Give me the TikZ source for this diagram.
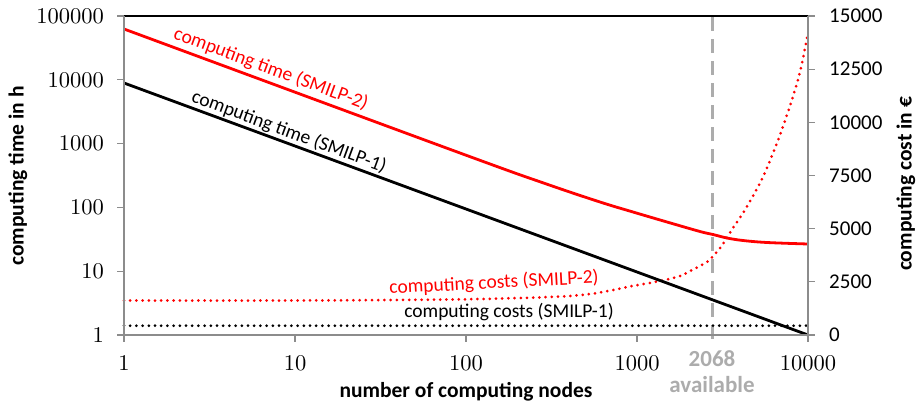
\documentclass[tikz,border=0pt]{standalone}
\usepackage{fontspec}
\usepackage{tikz}
\usetikzlibrary{positioning}
\newfontfamily\calibri{Carlito}
\newfontfamily\numfont{lmroman10-regular.otf}

\begin{document}
\begin{tikzpicture}[x=1pt, y=-1pt,
		axisline/.style={draw=gray!90, line width=1.2pt},
		framebox/.style={draw=black, line width=1.2pt},
		serifnum/.style={font=\numfont\fontsize{22.5}{22.5}\selectfont, inner sep=0pt},
		sansnum/.style={font=\calibri\fontsize{21}{21}\selectfont, inner sep=0pt},
		curvelabel/.style={font=\calibri\fontsize{19.5}{19.5}\selectfont, inner sep=0pt},
		axislabel/.style={font=\calibri\bfseries\fontsize{21.5}{21.5}\selectfont, inner sep=0pt},
		availlabel/.style={font=\calibri\bfseries\fontsize{23}{23}\selectfont, text=gray!65, inner sep=0pt},
		timeline/.style={line width=2.8pt, line join=round},
		costline/.style={line width=3pt, dash pattern=on 0pt off 6.2pt, line cap=round},
		availline/.style={draw=gray!65, line width=3pt, dash pattern=on 14pt off 8pt},
		]
		\useasboundingbox (0,0) rectangle (916,407);

		%Frame
		\coordinate (origin)	at (124,335);
		\coordinate (topleft)	at (124,16);
		\coordinate (topright)	at (808,16);
		\coordinate (botright)	at (808,335);
		\coordinate (availtop)	at (712,17);
		\coordinate (availbot)	at (712,343);

		%Available nodes
		\draw[availline]	(availtop) -- (availbot);

		%Cost curves (right axis)
		\draw[costline, black]	(124,325.7) -- (808,325.7);
		\draw[costline, red]	plot[smooth, tension=0.5] coordinates {(124,300.5) (300,300.5) (450,299.5) (520,298) (570,296) (600,292.5) (630,286.5) (660,281) (680,276) (693,269.5) (707,262) (715,254) (723,244) (733,228) (743,213) (753,196) (763,177) (777,143) (790,106) (800,72) (808,33)};

		%Time curves (left axis)
		\draw[timeline, black]	(124,83) -- (botright);
		\draw[timeline, red]	plot[smooth, tension=0.6] coordinates {(124,29) (460,153) (545,183.5) (600,202) (633,212) (667,222) (700,231.5) (713,234.5) (727,238) (743,240.5) (767,242.5) (808,244)};

		%Axes
		\draw[framebox]		(topleft) -- (topright);
		\draw[axisline]		(topleft) -- (origin) -- (botright) -- (topright);
		\foreach \v [count=\i from 0] in {1,10,100,1000,10000,100000}{
			\draw[axisline] (117,335-63.8*\i) -- (124,335-63.8*\i);
			\node[serifnum, anchor=east] (ytick\i) at (104,335-63.8*\i) {\v};
		}
		\foreach \v [count=\i from 0] in {1,10,100,1000,10000}{
			\draw[axisline] (124+171*\i,335) -- (124+171*\i,342);
			\node[serifnum] (xtick\i) at (124+171*\i,363) {\v};
		}
		\foreach \v [count=\i from 0] in {0,2500,5000,7500,10000,12500,15000}{
			\draw[axisline] (808,335-53.17*\i) -- (815,335-53.17*\i);
			\node[sansnum, anchor=west] (ctick\i) at (829,335-53.17*\i) {\v};
		}

		%Labels
		\node[curvelabel, red, rotate=-20.3]	(timeTwo)	at (271,69)		{computing time (SMILP-2)};
		\node[curvelabel, rotate=-20.2]			(timeOne)	at (289,132)	{computing time (SMILP-1)};
		\node[curvelabel, red, rotate=3]		(costTwo)	at (494,283)	{computing costs (SMILP-2)};
		\node[curvelabel]						(costOne)	at (509,312)	{computing costs (SMILP-1)};
		\node[axislabel]						(xlabel)	at (466,392)	{number of computing nodes};
		\node[axislabel, rotate=90]				(ylabel)	at (18,176)		{computing time in h};
		\node[axislabel, rotate=90]				(clabel)	at (906,184)	{computing cost in €};
		\node[availlabel]						(availnum)	at (712,359)	{2068};
		\node[availlabel]						(availtxt)	[below=9pt of availnum]	{available};

	\end{tikzpicture}
\end{document}
